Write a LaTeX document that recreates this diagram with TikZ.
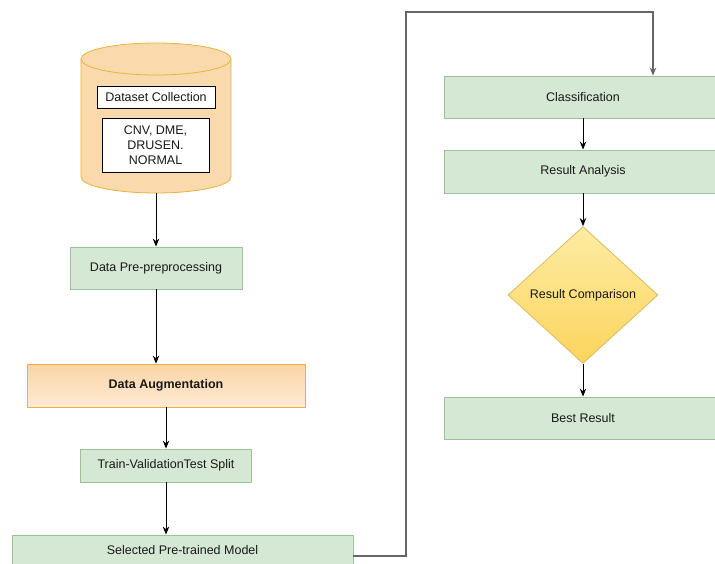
\documentclass[tikz,border=0pt]{standalone}
\usepackage{fontspec}
\setmainfont{Liberation Sans}
\usetikzlibrary{shapes.geometric,arrows.meta}
\definecolor{greenfill}{HTML}{D5E8D4}
\definecolor{greenline}{HTML}{9CC29A}
\definecolor{orangefill}{HTML}{FAD9AC}
\definecolor{orangetop}{HTML}{FAD5A6}
\definecolor{orangebot}{HTML}{FFEBD4}
\definecolor{orangeline}{HTML}{E8B33A}
\definecolor{yellowtop}{HTML}{FDECA4}
\definecolor{yellowbot}{HTML}{FCD45C}
\definecolor{yellowline}{HTML}{D9BC62}
\definecolor{loopgray}{HTML}{666666}
\begin{document}
\begin{tikzpicture}[x=1pt, y=1pt,
	every node/.style={font=\fontsize{12.5}{15}\selectfont, text=black!90},
	stepbox/.style={shape=rectangle, draw=greenline, fill=greenfill, line width=0.8pt, inner sep=0pt},
	augbox/.style={shape=rectangle, draw=orangeline, top color=orangetop, bottom color=orangebot, line width=0.8pt, inner sep=0pt},
	listbox/.style={shape=rectangle, draw=black, fill=white, line width=0.8pt, inner sep=0pt, align=center},
	decision/.style={shape=diamond, draw=yellowline, top color=yellowtop, bottom color=yellowbot, line width=0.8pt, inner sep=0pt},
	flow/.style={-{Stealth[length=8pt,width=6.5pt]}, line width=0.9pt, black},
	loop/.style={-{Stealth[length=8pt,width=6.5pt]}, line width=1.2pt, loopgray}]
	\clip (0,0) rectangle (715,-564);
	\fill[white] (0,0) rectangle (715,-564);

	% dataset cylinder
	\path[fill=orangefill, draw=orangeline, line width=0.8pt]
		(81,-59) -- (81,-177) arc[start angle=180, end angle=360, x radius=75, y radius=16]
		-- (231,-59) arc[start angle=0, end angle=180, x radius=75, y radius=16] -- cycle;
	\draw[orangeline, line width=0.8pt] (81,-59) arc[start angle=180, end angle=360, x radius=75, y radius=16];
	\node[minimum width=150pt, minimum height=150pt, inner sep=0pt] (db) at (156,-118) {};
	\node[listbox, minimum width=118pt, minimum height=22pt] (dsc) at (156,-97) {Dataset Collection};
	\node[listbox, minimum width=107pt, minimum height=54pt] (cls) at (155.5,-145) {CNV, DME,\\DRUSEN.\\NORMAL};

	% left column
	\node[stepbox, minimum width=172pt, minimum height=42pt] (pre)   at (156,-268)   {Data Pre-preprocessing};
	\node[augbox,  minimum width=278pt, minimum height=43pt] (aug)   at (166,-385.5) {\bfseries Data Augmentation};
	\node[stepbox, minimum width=171pt, minimum height=33pt] (split) at (166,-465.5) {Train-ValidationTest Split};
	\node[stepbox, minimum width=341pt, minimum height=30pt] (model) at (182.5,-550) {Selected Pre-trained Model};

	% right column
	\node[stepbox, minimum width=278pt, minimum height=42pt]  (clf)  at (583,-97)    {Classification};
	\node[stepbox, minimum width=278pt, minimum height=43pt]  (ana)  at (583,-171.5) {Result Analysis};
	\node[decision, minimum width=150pt, minimum height=137pt] (cmp) at (583,-295)   {Result Comparison};
	\node[stepbox, minimum width=278pt, minimum height=42pt]  (best) at (583,-418)   {Best Result};

	\coordinate (turn) at (406,-12);

	\path [flow] (db.south)   edge (pre.north);
	\path [flow] (pre.south)  edge (pre.south |- aug.north);
	\path [flow] (aug.south)  edge (split.north);
	\path [flow] (split.south) edge (split.south |- model.north);
	\draw [loop] ([yshift=-6pt]model.east) -| (turn) -| ([xshift=70pt]clf.north);
	\path [flow] (clf.south)  edge (ana.north);
	\path [flow] (ana.south)  edge (cmp.north);
	\path [flow] (cmp.south)  edge (best.north);
\end{tikzpicture}
\end{document}
